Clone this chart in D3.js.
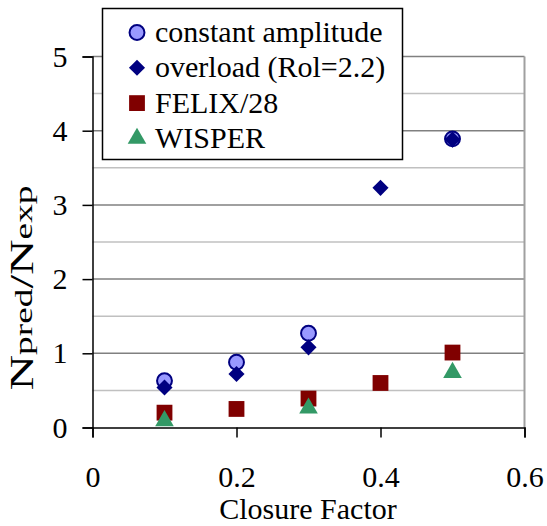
<!DOCTYPE html>
<html>
<head>
<meta charset="utf-8">
<script src="https://cdn.jsdelivr.net/npm/d3@7"></script>
<style>
  body { margin: 0; background: #fff; }
</style>
</head>
<body>
<svg id="chart" width="547" height="526" font-family="Liberation Serif, Times New Roman, Times, serif"></svg>
<script>
// closure factor values for each series
const xConst = [0.1, 0.2, 0.3, 0.5];
const yConst = [0.63, 0.88, 1.27, 3.89];
const xOver = [0.1, 0.2, 0.3, 0.4, 0.5];
const yOver = [0.54, 0.72, 1.08, 3.23, 3.88];
const xFelix = [0.1, 0.2, 0.3, 0.4, 0.5];
const yFelix = [0.2, 0.25, 0.39, 0.6, 1.01];
const xWisper = [0.1, 0.3, 0.5];
const yWisper = [0.09, 0.26, 0.74];
const xTicks = [0, 0.2, 0.4, 0.6];
const yTicks = [0, 1, 2, 3, 4, 5];
const yMinor = [0.5, 1.5, 2.5, 3.5, 4.5];
const seriesNames = ["constant amplitude", "overload (Rol=2.2)", "FELIX/28", "WISPER"];

const serif = "Liberation Serif, Times New Roman, Times, serif";
let svg = d3.select("#chart"),
    x = d3.scaleLinear().domain([0, 0.6]).range([92.5, 524.5]),
    y = d3.scaleLinear().domain([0, 5]).range([427.5, 56.5]);

let series = [
    {name: seriesNames[0], shape: d3.symbolCircle, size: 175, fill: "#9999ff", stroke: "#000080",
        pts: xConst.map((v, i) => [v, yConst[i]])},
    {name: seriesNames[1], shape: d3.symbolDiamond2, size: 165, fill: "#000080", stroke: "none",
        pts: xOver.map((v, i) => [v, yOver[i]])},
    {name: seriesNames[2], shape: d3.symbolSquare, size: 250, fill: "#800000", stroke: "none",
        pts: xFelix.map((v, i) => [v, yFelix[i]])},
    {name: seriesNames[3], shape: d3.symbolTriangle, size: 150, fill: "#339966", stroke: "none",
        pts: xWisper.map((v, i) => [v, yWisper[i]])}
];

//grille
svg.append("g").selectAll("line").data(yMinor).enter().append("line")
    .attr("x1", x(0)).attr("x2", x(0.6))
    .attr("y1", d => y(d)).attr("y2", d => y(d))
    .attr("stroke", "#c0c0c0").attr("stroke-width", 1.5);
svg.append("g").selectAll("line").data(yTicks.slice(1)).enter().append("line")
    .attr("x1", x(0)).attr("x2", x(0.6))
    .attr("y1", d => y(d)).attr("y2", d => y(d))
    .attr("stroke", "#808080").attr("stroke-width", 1.5);
svg.append("line")
    .attr("x1", x(0.6)).attr("x2", x(0.6)).attr("y1", y(5)).attr("y2", y(0))
    .attr("stroke", "#a0a0a0").attr("stroke-width", 2);

//axes
let xAxis = svg.append("g").attr("transform", `translate(0,${y(0)})`)
    .call(d3.axisBottom(x).tickValues(xTicks).tickSize(10).tickPadding(28).tickFormat(d3.format("")));
let yAxis = svg.append("g").attr("transform", `translate(${x(0)},0)`)
    .call(d3.axisLeft(y).tickValues(yTicks).tickSize(10).tickPadding(15).tickFormat(d3.format("d")));
[xAxis, yAxis].forEach(a => {
    a.attr("font-family", serif).attr("font-size", 30);
    a.select(".domain").attr("stroke", "#000").attr("stroke-width", 1.5);
    a.selectAll(".tick line").attr("stroke", "#000").attr("stroke-width", 1.5);
    a.selectAll(".tick text").attr("font-family", serif).attr("font-size", 30).attr("fill", "#000");
});

svg.append("text").attr("x", 308).attr("y", 519)
    .attr("font-family", serif).attr("font-size", 30)
    .attr("text-anchor", "middle").text("Closure Factor");

//titre Y, etire dans le sens du texte comme l'original
let yl = svg.append("text").attr("transform", "translate(33,288) rotate(-90)")
    .attr("font-family", serif).attr("font-size", 33)
    .attr("text-anchor", "middle").attr("textLength", 205).attr("lengthAdjust", "spacingAndGlyphs");
yl.append("tspan").text("N");
yl.append("tspan").attr("font-size", 25).attr("dy", -1).text("pred");
yl.append("tspan").attr("dy", 1).text("/N");
yl.append("tspan").attr("font-size", 25).attr("dy", -1).text("exp");

//points
series.forEach(s => {
    svg.append("g").selectAll("path").data(s.pts).enter().append("path")
        .attr("d", d3.symbol().type(s.shape).size(s.size))
        .attr("transform", d => `translate(${x(d[0])},${y(d[1])})`)
        .attr("fill", s.fill).attr("stroke", s.stroke).attr("stroke-width", 2);
});

//legende
let lg = svg.append("g");
lg.append("rect").attr("x", 102.5).attr("y", 8.5).attr("width", 300).attr("height", 151)
    .attr("fill", "#fff").attr("stroke", "#000").attr("stroke-width", 1.5);
series.forEach((s, i) => {
    let cy = 32.5 + i * 35.3;
    lg.append("path")
        .attr("d", d3.symbol().type(s.shape).size(s.size))
        .attr("transform", `translate(137,${cy})`)
        .attr("fill", s.fill).attr("stroke", s.stroke).attr("stroke-width", 2);
    lg.append("text").attr("x", 155).attr("y", cy + 9.5)
        .attr("font-family", serif).attr("font-size", 30).text(s.name);
});
</script>
</body>
</html>
